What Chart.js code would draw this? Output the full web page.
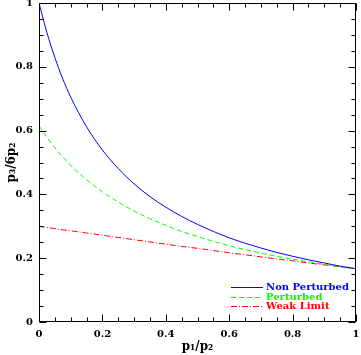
<!DOCTYPE html>
<html>
<head>
<meta charset="utf-8">
<script src="https://cdn.jsdelivr.net/npm/chart.js@4/dist/chart.umd.min.js"></script>
<style>
html,body{margin:0;padding:0;background:#fff;}
canvas{display:block;}
</style>
</head>
<body>
<canvas id="c" width="361" height="355"></canvas>
<script>
const xValues = [0,0.025,0.05,0.075,0.1,0.15,0.2,0.25,0.3,0.35,0.4,0.45,0.5,0.55,0.6,0.65,0.7,0.75,0.8,0.85,0.9,0.95,1];
const nonPerturbed = [1,0.907,0.829,0.762,0.705,0.612,0.539,0.481,0.433,0.393,0.360,0.331,0.306,0.284,0.264,0.247,0.232,0.218,0.206,0.195,0.185,0.175,0.167];
const perturbed = [0.615,0.579,0.546,0.517,0.491,0.446,0.408,0.376,0.348,0.324,0.303,0.284,0.268,0.253,0.239,0.227,0.216,0.206,0.197,0.189,0.181,0.173,0.167];
const weakLimit = [0.300,0.296,0.293,0.289,0.286,0.279,0.272,0.265,0.258,0.251,0.244,0.237,0.231,0.224,0.217,0.211,0.204,0.198,0.192,0.185,0.179,0.173,0.167];
const seriesLabels = ['Non Perturbed','Perturbed','Weak Limit'];
const xTickLabels = ['0','0.2','0.4','0.6','0.8','1'];
const yTickLabels = ['0','0.2','0.4','0.6','0.8','1'];

const FONT = '"DejaVu Serif", "Liberation Serif", serif';

function pts(ys){ return xValues.map((x,i)=>({x:x,y:ys[i]})); }

const frameTicks = {
  id:'frameTicks',
  afterDraw(chart){
    const ctx = chart.ctx, a = chart.chartArea;
    const xs = chart.scales.x, ys = chart.scales.y;
    ctx.save();
    ctx.strokeStyle = '#000';
    ctx.lineWidth = 1;
    ctx.setLineDash([]);
    const L = Math.round(a.left)+0.5, R = Math.round(a.right)-0.5, T = Math.round(a.top)+0.5, B = Math.round(a.bottom)-0.5;
    ctx.strokeRect(L, T, R-L, B-T);
    ctx.beginPath();
    for (let k=0;k<=20;k++){
      const v = k*0.05;
      const len = (k%4===0) ? 7 : 4;
      const px = Math.round(xs.getPixelForValue(v))+0.5;
      ctx.moveTo(px,B); ctx.lineTo(px,B-len);
      ctx.moveTo(px,T); ctx.lineTo(px,T+len);
      const py = Math.round(ys.getPixelForValue(v))+0.5;
      ctx.moveTo(L,py); ctx.lineTo(L+len,py);
      ctx.moveTo(R,py); ctx.lineTo(R-len,py);
    }
    ctx.stroke();
    // legend
    const rows = [287, 296.5, 306];
    chart.data.datasets.forEach((ds,i)=>{
      const y = Math.round(rows[i]);
      ctx.strokeStyle = ds.borderColor;
      ctx.setLineDash(ds.borderDash || []);
      ctx.beginPath();
      ctx.moveTo(231, y+0.5); ctx.lineTo(263, y+0.5);
      ctx.stroke();
      ctx.setLineDash([]);
      ctx.fillStyle = ds.borderColor;
      ctx.font = 'bold 10px ' + FONT;
      ctx.textBaseline = 'middle';
      ctx.textAlign = 'left';
      ctx.fillText(ds.label, 266, y+0.5);
    });
    ctx.restore();
  }
};

new Chart(document.getElementById('c'), {
  type:'line',
  data:{
    datasets:[
      {label:seriesLabels[0], data:pts(nonPerturbed), borderColor:'#0000ff', borderWidth:1, pointRadius:0, fill:false, cubicInterpolationMode:'monotone'},
      {label:seriesLabels[1], data:pts(perturbed), borderColor:'#00ff00', borderWidth:1, borderDash:[5,3], pointRadius:0, fill:false, cubicInterpolationMode:'monotone'},
      {label:seriesLabels[2], data:pts(weakLimit), borderColor:'#ff0000', borderWidth:1, borderDash:[6,2,1,2], pointRadius:0, fill:false, cubicInterpolationMode:'monotone'}
    ]
  },
  options:{
    responsive:false,
    animation:false,
    devicePixelRatio:1,
    layout:{padding:{top:3,right:5,left:0,bottom:0}},
    plugins:{legend:{display:false}, tooltip:{enabled:false}},
    scales:{
      x:{
        type:'linear', min:0, max:1,
        afterFit(s){ s.height = 33; s.paddingLeft = 0; s.paddingRight = 0; s.paddingTop = 0; s.paddingBottom = 0; },
        grid:{display:false, drawTicks:false},
        border:{display:false},
        afterBuildTicks(s){ s.ticks = xTickLabels.map(t=>({value:parseFloat(t)})); },
        ticks:{padding:6, color:'#000', maxRotation:0, autoSkip:false,
          font:{family:FONT, size:10, weight:'bold'},
          callback(v,i){ return xTickLabels[i]; }},
        title:{display:true, text:'p\u2081/p\u2082', color:'#000', padding:{top:0,bottom:1},
          font:{family:FONT, size:12, weight:'bold'}}
      },
      y:{
        type:'linear', min:0, max:1,
        afterFit(s){ s.width = 39; s.paddingLeft = 0; s.paddingRight = 0; s.paddingTop = 0; s.paddingBottom = 0; },
        grid:{display:false, drawTicks:false},
        border:{display:false},
        afterBuildTicks(s){ s.ticks = yTickLabels.map(t=>({value:parseFloat(t)})); },
        ticks:{padding:6, color:'#000', autoSkip:false,
          font:{family:FONT, size:10, weight:'bold'},
          callback(v,i){ return yTickLabels[i]; }},
        title:{display:true, text:'p\u2083/6p\u2082', color:'#000', padding:{top:5,bottom:0},
          font:{family:FONT, size:12, weight:'bold'}}
      }
    }
  },
  plugins:[frameTicks]
});
</script>
</body>
</html>
